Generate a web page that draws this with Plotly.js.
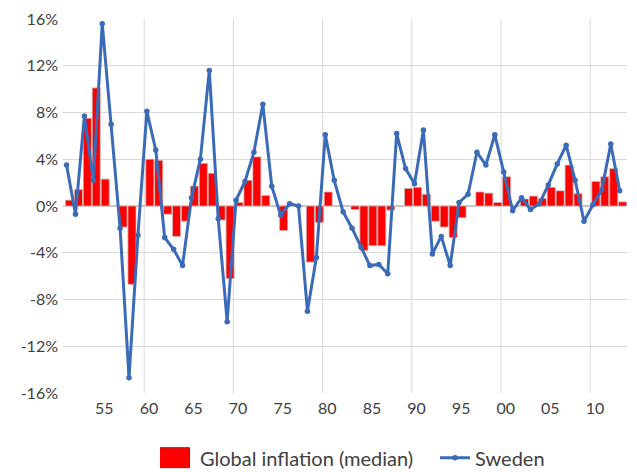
<!DOCTYPE html>
<html>
<head>
<meta charset="utf-8">
<script src="https://cdn.plot.ly/plotly-3.0.1.min.js"></script>
<style>
  html, body { margin: 0; padding: 0; background: #ffffff; }
  #chart { width: 637px; height: 472px; }
</style>
</head>
<body>
<div id="chart"></div>
<script>
// ---- Data ----
const years = [
  1951, 1952, 1953, 1954, 1955, 1956, 1957, 1958, 1959, 1960,
  1961, 1962, 1963, 1964, 1965, 1966, 1967, 1968, 1969, 1970,
  1971, 1972, 1973, 1974, 1975, 1976, 1977, 1978, 1979, 1980,
  1981, 1982, 1983, 1984, 1985, 1986, 1987, 1988, 1989, 1990,
  1991, 1992, 1993, 1994, 1995, 1996, 1997, 1998, 1999, 2000,
  2001, 2002, 2003, 2004, 2005, 2006, 2007, 2008, 2009, 2010,
  2011, 2012, 2013
];

// Global inflation (median), %
const globalInflation = [
  0.5, 1.4, 7.5, 10.1, 2.3, 0.0, -1.8, -6.7, 0.0, 4.0,
  3.9, -0.7, -2.6, -1.3, 1.7, 3.65, 2.8, -1.2, -6.2, 0.3,
  2.2, 4.2, 0.9, 0.0, -2.1, 0.0, 0.0, -4.8, -1.4, 1.2,
  0.0, 0.0, -0.3, -3.8, -3.4, -3.4, -0.35, 0.0, 1.5, 1.6,
  1.0, -1.3, -1.8, -2.7, -1.0, 0.0, 1.2, 1.1, 0.3, 2.5,
  0.0, 0.6, 0.85, 0.65, 1.6, 1.3, 3.5, 1.05, 0.0, 2.1,
  2.5, 3.2, 0.35
];

// Sweden, %
const sweden = [
  3.5, -0.7, 7.7, 2.2, 15.6, 7.0, -1.9, -14.7, -2.5, 8.1,
  4.8, -2.7, -3.7, -5.1, 0.7, 4.0, 11.6, -1.1, -9.9, 0.5,
  2.1, 4.6, 8.7, 1.7, -0.8, 0.2, 0.0, -9.0, -4.4, 6.1,
  2.2, -0.5, -1.9, -3.5, -5.1, -5.0, -5.8, 6.2, 3.2, 1.9,
  6.5, -4.1, -2.6, -5.1, 0.3, 1.0, 4.6, 3.5, 6.1, 2.9,
  -0.4, 0.7, -0.3, 0.2, 1.8, 3.6, 5.2, 2.2, -1.3, 0.1,
  1.4, 5.3, 1.3
];

// Tick labels
const labelYears = [1955, 1960, 1965, 1970, 1975, 1980, 1985, 1990, 1995, 2000, 2005, 2010];
const labelText  = ['55', '60', '65', '70', '75', '80', '85', '90', '95', '00', '05', '10'];
const gridDecades = [1960, 1970, 1980, 1990, 2000, 2010];
const yTicks = [-16, -12, -8, -4, 0, 4, 8, 12, 16];

// ---- Styling constants ----
const LINE_SHIFT = 0.33;   // line points sit slightly left of bar centres
const LABEL_SHIFT = 0.1;
const GRID_SHIFT = 0.63;
const FONT = 'Lato, "Open Sans", sans-serif';
const TEXT_COLOR = '#404040';
const GRID_COLOR = '#d9d9d9';
const BLUE = '#3b6bb8';

const barTrace = {
  type: 'bar',
  name: 'Global inflation (median)',
  x: years,
  y: globalInflation,
  width: 0.9,
  marker: { color: '#ff0000', line: { color: '#c8b4b4', width: 0.8 } },
  legend: 'legend',
  hoverinfo: 'skip'
};

const lineTrace = {
  type: 'scatter',
  mode: 'lines+markers',
  name: 'Sweden',
  x: years.map(y => y - LINE_SHIFT),
  y: sweden,
  line: { color: BLUE, width: 3 },
  marker: { color: BLUE, size: 5.5 },
  legend: 'legend2',
  hoverinfo: 'skip'
};

const shapes = gridDecades.map(d => ({
  type: 'line',
  xref: 'x', yref: 'paper',
  x0: d - GRID_SHIFT, x1: d - GRID_SHIFT,
  y0: 0, y1: 1,
  layer: 'below',
  line: { color: GRID_COLOR, width: 1 }
}));

const legendBase = {
  orientation: 'h',
  xref: 'paper', xanchor: 'left',
  yref: 'container', y: 0.0303, yanchor: 'middle',
  font: { family: FONT, size: 20, color: TEXT_COLOR },
  bgcolor: 'rgba(0,0,0,0)'
};

const layout = {
  width: 637,
  height: 472,
  margin: { l: 63, r: 10, t: 19, b: 79 },
  paper_bgcolor: '#ffffff',
  plot_bgcolor: '#ffffff',
  font: { family: FONT, size: 16, color: TEXT_COLOR },
  showlegend: true,
  legend: Object.assign({}, legendBase, { x: 0.172 }),
  legend2: Object.assign({}, legendBase, { x: 0.6596 }),
  xaxis: {
    range: [1950.27, 2013.49],
    tickmode: 'array',
    tickvals: labelYears.map(y => y - LABEL_SHIFT),
    ticktext: labelText,
    showgrid: false,
    zeroline: false,
    showline: false,
    ticks: '',
    ticklabelstandoff: 4,
    tickfont: { family: FONT, size: 16, color: TEXT_COLOR },
    fixedrange: true
  },
  yaxis: {
    range: [-16, 16],
    tickmode: 'array',
    tickvals: yTicks,
    ticktext: yTicks.map(v => v + '%'),
    showgrid: true,
    gridcolor: GRID_COLOR,
    gridwidth: 1,
    zeroline: true,
    zerolinecolor: GRID_COLOR,
    zerolinewidth: 1.5,
    showline: false,
    ticks: '',
    ticklabelstandoff: 4,
    tickfont: { family: FONT, size: 16, color: TEXT_COLOR },
    fixedrange: true
  },
  shapes: shapes,
  bargap: 0.1
};

Plotly.newPlot('chart', [barTrace, lineTrace], layout, { staticPlot: true, displayModeBar: false })
  .then(gd => {
    // Enlarge the bar legend swatch to the wide, outlined box of the reference
    const first = gd.querySelector('.legend .traces');
    if (first) {
      first.querySelectorAll('.legendpoints path').forEach(p => {
        p.setAttribute('d', 'M-23.5,-10H9.5V10H-23.5Z');
        p.style.stroke = '#404040';
        p.style.strokeWidth = '1px';
      });
    }
  });
</script>
</body>
</html>
